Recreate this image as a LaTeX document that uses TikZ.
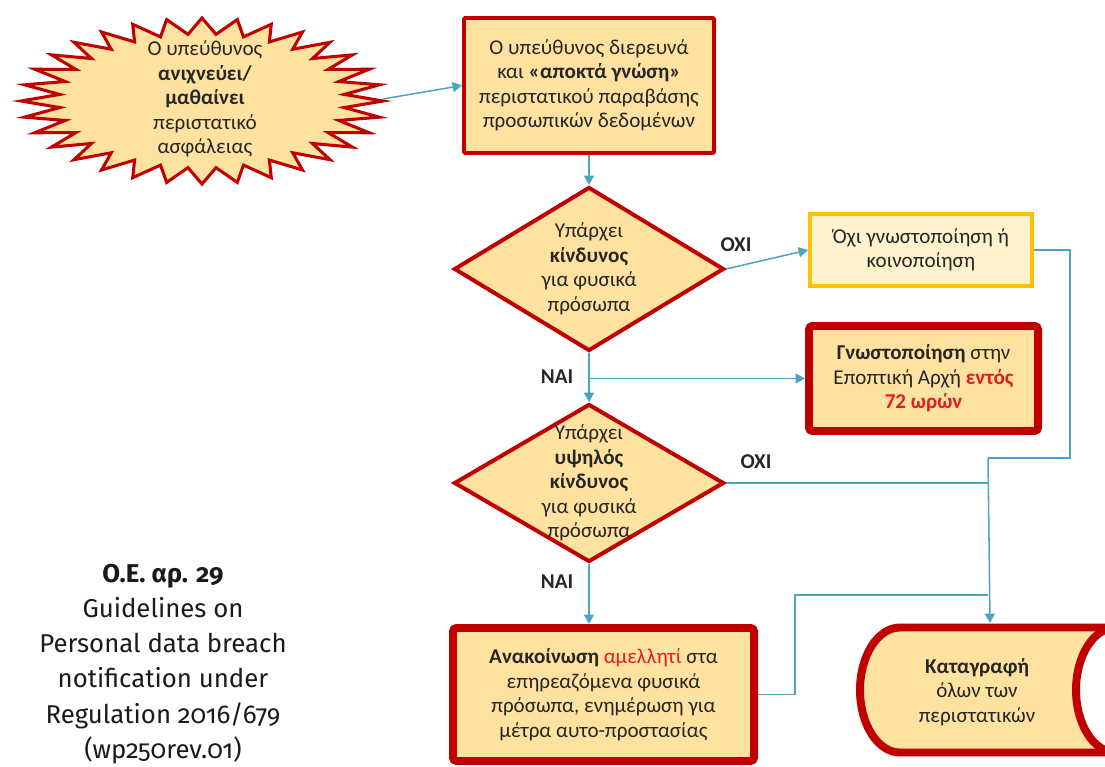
\documentclass[tikz,border=0pt]{standalone}
\usepackage{fontspec}
\setmainfont{Carlito}
\newfontfamily\reffont[Numbers=OldStyle]{Fira Sans}
\usetikzlibrary{shapes.geometric,arrows.meta}

\definecolor{boxred}{HTML}{C00000}
\definecolor{boxfill}{HTML}{FFE29F}
\definecolor{softfill}{HTML}{FFF2CC}
\definecolor{amber}{HTML}{FFC000}
\definecolor{linkc}{HTML}{4BA5C0}
\definecolor{txt}{HTML}{262626}
\definecolor{hot}{HTML}{E41E20}
\definecolor{reftxt}{HTML}{1A1A1A}

\tikzset{
  base/.style={font=\fontsize{18}{20.9}\selectfont, text=txt, align=center, inner sep=0pt},
  redbox/.style={base, rectangle, draw=boxred, fill=boxfill, line width=3.4pt, rounded corners=1pt},
  heavybox/.style={base, rectangle, draw=boxred, fill=boxfill, line width=6.8pt, rounded corners=3pt},
  softbox/.style={base, rectangle, draw=amber, fill=softfill, line width=3.4pt},
  decision/.style={diamond, draw=boxred, fill=boxfill, line width=3.4pt, inner sep=0pt},
  starshape/.style={draw=boxred, fill=boxfill, line width=2.6pt, line join=miter},
  link/.style={draw=linkc, line width=1.3pt},
  arr/.style={link, -{Triangle[length=8pt,width=8.5pt]}},
  yesno/.style={font=\bfseries\fontsize{18}{20}\selectfont, text=txt, inner sep=0pt},
}

\begin{document}
\begin{tikzpicture}[x=0.03cm,y=-0.03cm]
\useasboundingbox (0,0) rectangle (1105,767);
\clip (0,0) rectangle (1105,767);

% 32-point star around the starting event
\draw[starshape] (202,18)
  \foreach \i [evaluate=\i as \rx using {181-38*mod(\i,2)},
               evaluate=\i as \ry using {83-16*mod(\i,2)}] in {1,...,63}
  { -- ({202+\rx*cos(90+\i*5.625)},{101-\ry*sin(90+\i*5.625)}) } -- cycle;
\node[base] (burst) at (205,99)
  {Ο υπεύθυνος\\\textbf{ανιχνεύει/}\\\textbf{μαθαίνει}\\περιστατικό\\ασφάλειας};
\coordinate (burstR) at (383,99);

% process boxes
\node[redbox, minimum width=7.5cm, minimum height=4.05cm] (box1) at (589,85.5)
  {Ο υπεύθυνος διερευνά\\και \textbf{«αποκτά γνώση»}\\περιστατικού παραβάσης\\προσωπικών δεδομένων};

\node[decision, minimum width=8.1cm, minimum height=4.92cm] (d1) at (589,269) {};
\node[base] (d1txt) at (d1.center) {Υπάρχει\\\textbf{κίνδυνος}\\για φυσικά\\πρόσωπα};

\node[softbox, minimum width=6.66cm, minimum height=2.16cm] (box2) at (921,250)
  {Όχι γνωστοποίηση ή\\κοινοποίηση};

\node[heavybox, minimum width=6.87cm, minimum height=3.15cm] (box3) at (923.5,378.5)
  {\textbf{Γνωστοποίηση} στην\\Εποπτική Αρχή \textcolor{hot}{\textbf{εντός}}\\\textcolor{hot}{\textbf{72 ωρών}}};

\node[decision, minimum width=8.1cm, minimum height=4.74cm] (d2) at (589,483) {};
\node[base] (d2txt) at (d2.center) {Υπάρχει\\\textbf{υψηλός}\\\textbf{κίνδυνος}\\για φυσικά\\πρόσωπα};

\node[heavybox, minimum width=9.03cm, minimum height=3.99cm] (ann) at (603.5,694.5)
  {\textbf{Ανακοίνωση} \textcolor{hot}{αμελλητί} στα\\επηρεαζόμενα φυσικά\\πρόσωπα, ενημέρωση για\\μέτρα αυτο-προστασίας};

% register of incidents: horizontal cylinder
\path[draw=boxred, fill=boxfill, line width=6.8pt]
  (1116,627.5) -- (900,627.5)
  .. controls (877.9,627.5) and (860,655.5) .. (860,690)
  .. controls (860,724.5) and (877.9,752.5) .. (900,752.5)
  -- (1116,752.5) -- cycle;
\path[draw=boxred, fill=white, line width=6.8pt] (1116,690) ellipse [x radius=40, y radius=62.5];
\node[base] (cyl) at (977,692) {\textbf{Καταγραφή}\\όλων των\\περιστατικών};
\coordinate (cyltop) at (990,623);

% connectors
\draw[arr] (burstR) -- (box1.west);
\draw[arr] (box1.south) -- (d1.north);
\draw[arr] (d1.east) -- (box2.west);
\node[yesno] (no1) at (736,245) {OXI};

\draw[arr] (d1.south) -- (d2.north);
\coordinate (b1) at (589,378.5);
\draw[arr] (b1) -- (box3.west);
\node[yesno] (yes1) at (557,377) {NAI};

\coordinate (r1) at (1070,458);
\coordinate (m1) at (988,458);
\coordinate (m2) at (988,483);
\coordinate (m3) at (988,595);
\coordinate (l1) at (795,595);
\draw[link] (box2.east) -| (r1) -- (m1);
\draw[arr] (m1) -- (cyltop);
\draw[link] (d2.east) -- (m2);
\node[yesno] (no2) at (756,462) {OXI};

\draw[arr] (d2.south) -- (d2.south |- ann.north);
\node[yesno] (yes2) at (557,582) {NAI};

\draw[link] (ann.east) -| (l1) -- (m3);

% source reference
\node[font=\reffont\fontsize{22}{30}\selectfont, text=reftxt, align=center, inner sep=0pt] (ref) at (163,664)
  {\textbf{Ο.Ε. αρ. 29}\\Guidelines on\\Personal data breach\\notification under\\Regulation 2016/679\\(wp250rev.01)};
\end{tikzpicture}
\end{document}
